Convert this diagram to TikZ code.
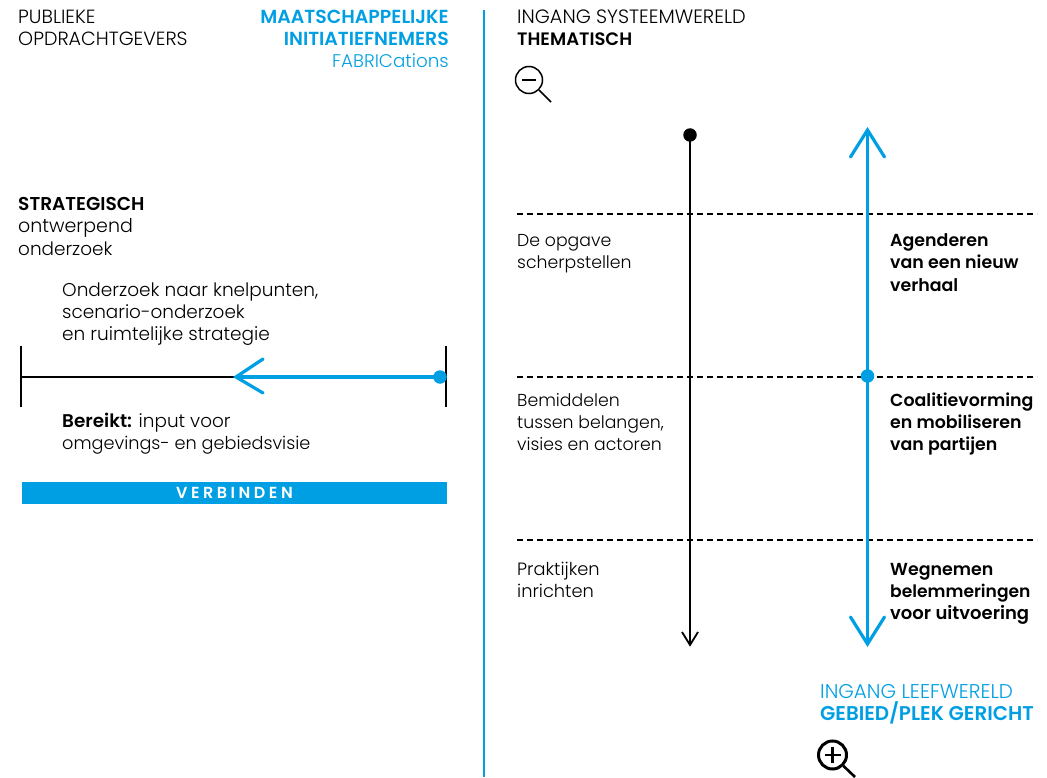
\documentclass[tikz,border=0pt]{standalone}
\usepackage{fontspec}
\setmainfont{Poppins}[UprightFont=* Light,BoldFont=* SemiBold]
\definecolor{fabblue}{HTML}{009FE3}
\tikzset{
  fs/.style={font=\fontsize{#1}{22}\selectfont},
  txt/.style={inner sep=0pt,anchor=base west,fs=17.3},
  boldtxt/.style={txt,fs=17.4},
  txtr/.style={inner sep=0pt,anchor=base east,fs=18.9,text=fabblue},
  head/.style={txt,fs=19.1},
  leftbody/.style={txt,fs=18.4},
  leaf/.style={txt,fs=19.9,text=fabblue},
  blueline/.style={draw=fabblue,line width=3.2pt},
  blackline/.style={draw=black,line width=1.8pt},
  dashline/.style={draw=black,line width=1.3pt,dash pattern=on 6pt off 4pt},
  openhead/.style={draw=fabblue,line width=3.2pt,line cap=round,line join=miter},
  lens/.style={circle,draw=black,inner sep=0pt,fill=none},
  dot/.style={circle,inner sep=0pt,minimum size=13.5pt}
}
\begin{document}
\begin{tikzpicture}[x=1pt,y=-1pt]
\useasboundingbox (0,0) rectangle (1047,778);
% header texts
\node[head] (pub1) at (18,24) {PUBLIEKE};
\node[head] (pub2) at (18,46) {OPDRACHTGEVERS};
\node[txtr] (mi1) at (449,24) {\bfseries MAATSCHAPPELIJKE};
\node[txtr] (mi2) at (449,46) {\bfseries INITIATIEFNEMERS};
\node[txtr,fs=18.3] (mi3) at (449,68) {FABRICations};
\node[head,fs=19.3] (sys1) at (517,24) {INGANG SYSTEEMWERELD};
\node[head,fs=18] (sys2) at (517,46) {\bfseries THEMATISCH};
% separator
\coordinate (sepT) at (484,10);
\coordinate (sepB) at (484,777);
\draw[draw=fabblue,line width=2pt] (sepT) -- (sepB);
% left
\node[leftbody,fs=18.6] (st1) at (18,211) {\bfseries STRATEGISCH};
\node[leftbody,fs=19] (st2) at (18,233) {ontwerpend};
\node[leftbody] (st3) at (18,255) {onderzoek};
\node[leftbody,fs=18.5] (on1) at (62,296) {Onderzoek naar knelpunten,};
\node[leftbody] (on2) at (62,318) {scenario-onderzoek};
\node[leftbody,fs=18.5] (on3) at (62,340) {en ruimtelijke strategie};
\node[leftbody] (be1) at (62,427) {\textbf{Bereikt:} input voor};
\node[leftbody,fs=17.7] (be2) at (62,449) {omgevings- en gebiedsvisie};
\coordinate (tickLT) at (21,346);
\coordinate (tickLB) at (21,407);
\coordinate (tickRT) at (446,346);
\coordinate (tickRB) at (446,407);
\coordinate (hL) at (21,377);
\coordinate (hTip) at (236,377);
\coordinate (hW1) at (263,359);
\coordinate (hW2) at (263,393);
\draw[blackline] (tickLT) -- (tickLB);
\draw[blackline] (tickRT) -- (tickRB);
\draw[blackline] (hL) -- (hTip);
\node[dot,fill=fabblue] (hDot) at (440,377) {};
\draw[blueline] (hDot.center) -- (hTip);
\draw[openhead] (hW1) -- (hTip) -- (hW2);
\node[fill=fabblue,text=white,inner sep=0pt,minimum width=425pt,minimum height=22pt,font=\fontsize{16}{16}\selectfont\bfseries,text height=11pt,text depth=0pt] (bar) at (234.5,493) {\addfontfeature{LetterSpace=22}VERBINDEN};
% dashed rows
\coordinate (d1a) at (517,214); \coordinate (d1b) at (1037,214);
\coordinate (d2a) at (517,377); \coordinate (d2b) at (1037,377);
\coordinate (d3a) at (517,540); \coordinate (d3b) at (1037,540);
\draw[dashline] (d1a) -- (d1b);
\draw[dashline] (d2a) -- (d2b);
\draw[dashline] (d3a) -- (d3b);
% black axis
\node[dot,fill=black] (kDot) at (690,135) {};
\coordinate (kTip) at (690,645);
\coordinate (kW1) at (682,632);
\coordinate (kW2) at (698,632);
\draw[blackline] (kDot.center) -- (kTip);
\draw[blackline] (kW1) -- (kTip) -- (kW2);
% blue axis
\coordinate (bTop) at (867.5,130);
\coordinate (bBot) at (867.5,644);
\coordinate (bT1) at (850.5,157); \coordinate (bT2) at (884.5,157);
\coordinate (bB1) at (850.5,617); \coordinate (bB2) at (884.5,617);
\draw[blueline] (bTop) -- (bBot);
\draw[openhead] (bT1) -- (bTop) -- (bT2);
\draw[openhead] (bB1) -- (bBot) -- (bB2);
\node[dot,fill=fabblue] (bDot) at (867.5,376) {};
% row labels
\node[txt] (a1) at (517,247) {De opgave};
\node[txt] (a2) at (517,269) {scherpstellen};
\node[txt] (b1) at (517,406) {Bemiddelen};
\node[txt] (b2) at (517,428) {tussen belangen,};
\node[txt] (b3) at (517,450) {visies en actoren};
\node[txt,fs=17.8] (c1) at (517,575) {Praktijken};
\node[txt,fs=17.8] (c2) at (517,597) {inrichten};
\node[boldtxt] (e1) at (890,247) {\bfseries Agenderen};
\node[boldtxt] (e2) at (890,269) {\bfseries van een nieuw};
\node[boldtxt] (e3) at (890,291) {\bfseries verhaal};
\node[boldtxt] (f1) at (890,406) {\bfseries Coalitievorming};
\node[boldtxt] (f2) at (890,428) {\bfseries en mobiliseren};
\node[boldtxt] (f3) at (890,450) {\bfseries van partijen};
\node[boldtxt] (g1) at (890,575) {\bfseries Wegnemen};
\node[boldtxt,fs=17.1] (g2) at (890,597) {\bfseries belemmeringen};
\node[boldtxt,fs=18] (g3) at (890,619) {\bfseries voor uitvoering};
\node[leaf] (l1) at (820,698) {INGANG LEEFWERELD};
\node[leaf] (l2) at (820,720) {\bfseries GEBIED/PLEK GERICHT};
% magnifiers
\node[lens,line width=1.5pt,minimum size=27pt] (minus) at (529,80) {};
\coordinate (mE) at (551,102);
\draw[line width=1.5pt] (minus.south east) -- (mE);
\draw[line width=1.5pt] ([xshift=-7pt]minus.center) -- ([xshift=7pt]minus.center);
\node[lens,line width=3pt,minimum size=28pt] (plus) at (832.5,755) {};
\coordinate (pE) at (855,777);
\draw[line width=2.6pt] (plus.south east) -- (pE);
\draw[line width=2.6pt] ([xshift=-8pt]plus.center) -- ([xshift=8pt]plus.center);
\draw[line width=2.6pt] ([yshift=-8pt]plus.center) -- ([yshift=8pt]plus.center);
\end{tikzpicture}
\end{document}
